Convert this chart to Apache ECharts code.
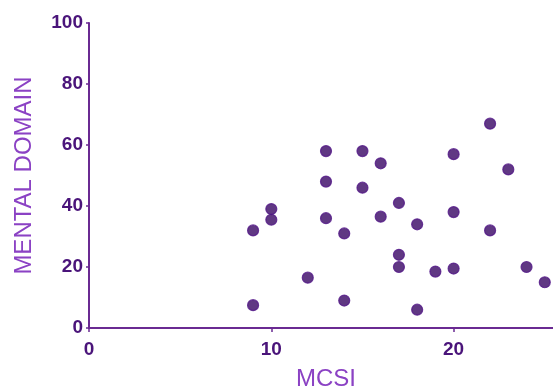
<!DOCTYPE html>
<html>
<head>
<meta charset="utf-8">
<script src="https://cdn.jsdelivr.net/npm/echarts@6/dist/echarts.min.js"></script>
<style>html,body{margin:0;padding:0;background:#fff;}#c{width:553px;height:389px;}</style>
</head>
<body>
<div id="c"></div>
<script>
var mcsi = [22, 13, 15, 16, 20, 23, 13, 15, 17, 13, 16, 20, 18, 14, 22, 17, 17, 19, 20, 24, 25, 12, 14, 18, 10, 10, 9, 9];
var mental = [67, 58, 58, 54, 57, 52, 48, 46, 41, 36, 36.5, 38, 34, 31, 32, 24, 20, 18.5, 19.5, 20, 15, 16.5, 9, 6, 39, 35.5, 32, 7.5];
var xTicks = [0, 10, 20];
var yTicks = [0, 20, 40, 60, 80, 100];

var pts = mcsi.map(function (x, i) { return [x, mental[i]]; });
var labelColor = '#4a147a';
var axisColor = '#6a2a92';
var titleColor = '#8b42c4';
var chart = echarts.init(document.getElementById('c'), null, { renderer: 'canvas' });
chart.setOption({
  animation: false,
  backgroundColor: '#ffffff',
  grid: { left: 89, right: -10, top: 23, bottom: 61, containLabel: false, outerBoundsMode: 'none' },
  xAxis: {
    type: 'value', min: 0, max: 26, interval: 10,
    name: 'MCSI', nameLocation: 'middle', nameGap: 39,
    nameTextStyle: { color: titleColor, fontSize: 24, fontFamily: 'Liberation Sans, Arial, sans-serif' },
    axisLine: { show: true, lineStyle: { color: axisColor, width: 2 } },
    axisTick: { show: true, length: 4, lineStyle: { color: axisColor, width: 1.5 } },
    axisLabel: {
      color: labelColor, fontSize: 19, fontWeight: 'bold', margin: 12,
      fontFamily: 'Liberation Sans, Arial, sans-serif',
      formatter: function (v) { return xTicks.indexOf(v) >= 0 ? String(v) : ''; }
    },
    splitLine: { show: false }
  },
  yAxis: {
    type: 'value', min: 0, max: 100, interval: 20,
    name: 'MENTAL DOMAIN', nameLocation: 'middle', nameGap: 53, nameRotate: 90,
    nameTextStyle: { color: titleColor, fontSize: 24, fontFamily: 'Liberation Sans, Arial, sans-serif' },
    axisLine: { show: true, lineStyle: { color: axisColor, width: 2 } },
    axisTick: { show: true, length: 3, lineStyle: { color: axisColor, width: 1.5 } },
    axisLabel: {
      color: labelColor, fontSize: 19, fontWeight: 'bold', margin: 6,
      fontFamily: 'Liberation Sans, Arial, sans-serif',
      formatter: function (v) { return yTicks.indexOf(v) >= 0 ? String(v) : ''; }
    },
    splitLine: { show: false }
  },
  series: [{
    type: 'scatter',
    data: pts,
    symbol: 'circle',
    symbolSize: 11,
    itemStyle: { color: '#380664', borderColor: '#521688', borderWidth: 1.2 }
  }]
});
</script>
</body>
</html>
